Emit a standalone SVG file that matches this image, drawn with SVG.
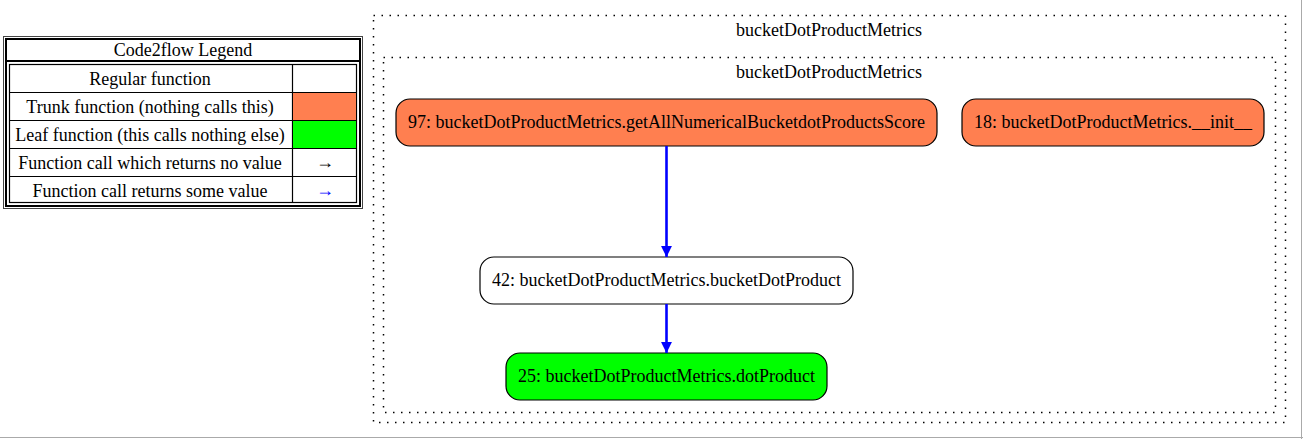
<svg xmlns="http://www.w3.org/2000/svg" width="1303" height="439" viewBox="0 0 1303 439">
<style>
text{font-family:"Liberation Serif","Times New Roman",serif;font-size:18px;fill:#000;}
.lg{font-size:18px;}
.node{stroke:#000;stroke-width:1.2;}
.cl{fill:none;stroke:#000;stroke-width:1.5;stroke-dasharray:1.5 6.5;}
.edge{stroke:#0000ff;stroke-width:2.6;fill:none;}
.cell{fill:none;stroke:#000;stroke-width:1.2;}
</style>
<defs>
<marker id="ah" viewBox="0 0 10 10" refX="10" refY="5" markerWidth="5.2" markerHeight="4.2" orient="auto" markerUnits="strokeWidth">
<path d="M0,0 L10,5 L0,10 z" fill="#0000ff"/>
</marker>
</defs>
<rect x="0" y="0" width="1303" height="439" fill="#fff"/>
<line x1="0" y1="437.5" x2="1303" y2="437.5" stroke="#aaa" stroke-width="1"/>
<line x1="1301.5" y1="0" x2="1301.5" y2="439" stroke="#aaa" stroke-width="1"/>

<g id="legend">
<rect x="3.5" y="36.5" width="359" height="172" fill="#fff" stroke="#444" stroke-width="1"/>
<rect x="6" y="39" width="354" height="167" fill="none" stroke="#000" stroke-width="2"/>
<line x1="6" y1="61" x2="360" y2="61" stroke="#000" stroke-width="2"/>
<rect x="9.5" y="64.5" width="347" height="138" class="cell"/>
<line x1="292.5" y1="64" x2="292.5" y2="203" stroke="#000" stroke-width="1.2"/>
<line x1="9" y1="92.5" x2="357" y2="92.5" stroke="#000" stroke-width="1.2"/>
<line x1="9" y1="120.5" x2="357" y2="120.5" stroke="#000" stroke-width="1.2"/>
<line x1="9" y1="148.5" x2="357" y2="148.5" stroke="#000" stroke-width="1.2"/>
<line x1="9" y1="176.5" x2="357" y2="176.5" stroke="#000" stroke-width="1.2"/>
<rect x="293" y="93" width="63" height="27" fill="#ff7f50"/>
<rect x="293" y="121" width="63" height="27" fill="#00ff00"/>
<text class="lg" x="183" y="56" text-anchor="middle">Code2flow Legend</text>
<text class="lg" x="150" y="85" text-anchor="middle">Regular function</text>
<text class="lg" x="150" y="113" text-anchor="middle">Trunk function (nothing calls this)</text>
<text class="lg" x="150" y="141" text-anchor="middle">Leaf function (this calls nothing else)</text>
<text class="lg" x="150" y="169" text-anchor="middle">Function call which returns no value</text>
<text class="lg" x="150" y="197" text-anchor="middle">Function call returns some value</text>
<text class="lg" x="325" y="168" text-anchor="middle">→</text>
<text class="lg" x="325" y="196" text-anchor="middle" style="fill:#0000ff">→</text>
</g>

<g id="cluster_outer">
<rect x="373.5" y="15.5" width="912" height="407" class="cl"/>
<text x="829" y="36" text-anchor="middle">bucketDotProductMetrics</text>
</g>
<g id="cluster_inner">
<rect x="383.5" y="57.5" width="892" height="355" class="cl"/>
<text x="829" y="78" text-anchor="middle">bucketDotProductMetrics</text>
</g>

<g id="node_97">
<rect x="396" y="99" width="541" height="47" rx="14" ry="14" class="node" fill="#ff7f50"/>
<text x="666.5" y="128" text-anchor="middle">97: bucketDotProductMetrics.getAllNumericalBucketdotProductsScore</text>
</g>
<g id="node_18">
<rect x="962" y="99" width="302" height="47" rx="14" ry="14" class="node" fill="#ff7f50"/>
<text x="1113" y="128" text-anchor="middle">18: bucketDotProductMetrics.__init__</text>
</g>
<g id="node_42">
<rect x="480" y="257" width="373" height="47" rx="14" ry="14" class="node" fill="#fff"/>
<text x="666.5" y="286" text-anchor="middle">42: bucketDotProductMetrics.bucketDotProduct</text>
</g>
<g id="node_25">
<rect x="506" y="353" width="321" height="47" rx="14" ry="14" class="node" fill="#00ff00"/>
<text x="666.5" y="382" text-anchor="middle">25: bucketDotProductMetrics.dotProduct</text>
</g>

<g id="edges">
<line x1="666.5" y1="146" x2="666.5" y2="257" class="edge" marker-end="url(#ah)"/>
<line x1="666.5" y1="304" x2="666.5" y2="353" class="edge" marker-end="url(#ah)"/>
</g>
</svg>
